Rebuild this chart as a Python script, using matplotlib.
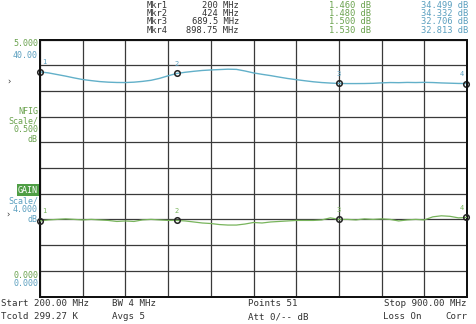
import matplotlib.pyplot as plt
import numpy as np

# sweep: 200-900 MHz, 51 points
freq_mhz = np.linspace(200, 900, 51)

gain_db = [34.96, 34.80, 34.55, 34.30, 34.02, 33.77, 33.60, 33.45, 33.36, 33.31,
           33.30, 33.36, 33.48, 33.65, 33.95, 34.35, 34.71, 34.90, 35.05, 35.18,
           35.26, 35.32, 35.38, 35.35, 35.10, 34.80, 34.58, 34.38, 34.15, 33.93,
           33.75, 33.58, 33.42, 33.30, 33.22, 33.16, 33.14, 33.14, 33.15, 33.18,
           33.25, 33.30, 33.28, 33.32, 33.30, 33.33, 33.30, 33.24, 33.20, 33.16,
           33.15]

nfig_db = [1.47, 1.49, 1.50, 1.51, 1.50, 1.49, 1.50, 1.49, 1.48, 1.46,
           1.47, 1.46, 1.49, 1.50, 1.49, 1.48, 1.48, 1.47, 1.45, 1.43,
           1.42, 1.40, 1.39, 1.39, 1.41, 1.44, 1.43, 1.45, 1.46, 1.47,
           1.48, 1.48, 1.48, 1.49, 1.53, 1.50, 1.50, 1.49, 1.51, 1.50,
           1.51, 1.50, 1.47, 1.49, 1.50, 1.49, 1.55, 1.57, 1.56, 1.53,
           1.54]

mkr_names = ["Mkr1", "Mkr2", "Mkr3", "Mkr4"]
mkr_freq = [200, 424, 689.5, 898.75]
mkr_freq_txt = ["200 MHz", "424 MHz", "689.5 MHz", "898.75 MHz"]
mkr_nf_txt = ["1.460 dB", "1.480 dB", "1.500 dB", "1.530 dB"]
mkr_gain_txt = ["34.499 dB", "34.332 dB", "32.706 dB", "32.813 dB"]

GREEN_TXT = '#6aa24e'
BLUE_TXT = '#5a9fbf'
GAIN_LINE = '#62b0c9'
NF_LINE = '#78b45c'
DARK = '#333333'
W, H = 476, 324
FONT = 'DejaVu Sans Mono'

fig = plt.figure(figsize=(W / 100, H / 100), dpi=100)
fig.patch.set_facecolor('white')


def put(x, y, s, color=DARK, ha='left', size=6.3, **kw):
    fig.text(x / W, 1 - y / H, s, color=color, ha=ha, va='center',
             fontsize=size, family=FONT, **kw)


left, right, top, bottom = 40, 467, 39.5, 296.5
ax = fig.add_axes([left / W, 1 - bottom / H, (right - left) / W, (bottom - top) / H])
ax2 = ax.twinx()

ax.set_xlim(200, 900)
ax.set_ylim(0, 40)
ax2.set_ylim(0, 5)
ax.set_xticks(np.linspace(200, 900, 11))
ax.set_yticks(np.linspace(0, 40, 11))
ax.grid(True, color='#3a3a3a', linewidth=0.9)
ax.tick_params(length=0, labelleft=False, labelbottom=False)
ax2.tick_params(length=0, labelright=False)
for a in (ax, ax2):
    for sp in a.spines.values():
        sp.set_color('#111111')
        sp.set_linewidth(1.4)

ax.plot(freq_mhz, gain_db, color=GAIN_LINE, linewidth=1.0, zorder=3)
ax2.plot(freq_mhz, nfig_db, color=NF_LINE, linewidth=0.9, zorder=3)

# markers on both traces
for i, f in enumerate(mkr_freq):
    g = np.interp(f, freq_mhz, gain_db)
    n = np.interp(f, freq_mhz, nfig_db)
    dx = 3 if i == 0 else (-3 if i == 3 else 0)
    for a, v, c in ((ax, g, BLUE_TXT), (ax2, n, NF_LINE)):
        a.plot(f, v, 'o', ms=4, mfc='none', mec='#222222', mew=1.1,
               clip_on=False, zorder=5)
        a.annotate(str(i + 1), (f, v), xytext=(dx, 7), textcoords='offset points',
                   ha='center', va='center', fontsize=5, color=c,
                   family=FONT, annotation_clip=False)

# marker readout table
rows_y = [5, 13.5, 22, 30.5]
for i, y in enumerate(rows_y):
    put(147, y, mkr_names[i])
    put(239, y, mkr_freq_txt[i], ha='right')
    put(371, y, mkr_nf_txt[i], color=GREEN_TXT, ha='right')
    put(468, y, mkr_gain_txt[i], color=BLUE_TXT, ha='right')

# scale annotations on the left
LS = 6.0
put(38, 44, "5.000", color=GREEN_TXT, ha='right', size=LS)
put(38, 56, "40.00", color=BLUE_TXT, ha='right', size=LS)
put(6, 82, "›", size=6)
put(38, 111, "NFIG", color=GREEN_TXT, ha='right', size=LS)
put(38, 121, "Scale/", color=GREEN_TXT, ha='right', size=LS)
put(38, 130, "0.500", color=GREEN_TXT, ha='right', size=LS)
put(38, 139, "dB", color=GREEN_TXT, ha='right', size=LS)
put(38, 190, "GAIN", color='white', ha='right', size=LS,
    bbox=dict(boxstyle='square,pad=0.15', fc='#4f9e45', ec='none'))
put(38, 201, "Scale/", color=BLUE_TXT, ha='right', size=LS)
put(38, 209.5, "4.000", color=BLUE_TXT, ha='right', size=LS)
put(38, 219, "dB", color=BLUE_TXT, ha='right', size=LS)
put(5, 215, "›", size=6)
put(38, 275, "0.000", color=GREEN_TXT, ha='right', size=LS)
put(38, 283.5, "0.000", color=BLUE_TXT, ha='right', size=LS)

# status lines
put(1, 304, "Start 200.00 MHz", size=6.6)
put(1, 316.5, "Tcold 299.27 K", size=6.6)
put(112, 304, "BW 4 MHz", size=6.6)
put(112, 316.5, "Avgs 5", size=6.6)
put(248, 304, "Points 51", size=6.6)
put(248, 316.5, "Att 0/-- dB", size=6.6)
put(467, 304, "Stop 900.00 MHz", ha='right', size=6.6)
put(383, 316.5, "Loss On", size=6.6)
put(467, 316.5, "Corr", ha='right', size=6.6)

fig.savefig('out.png', dpi=100, facecolor='white')
